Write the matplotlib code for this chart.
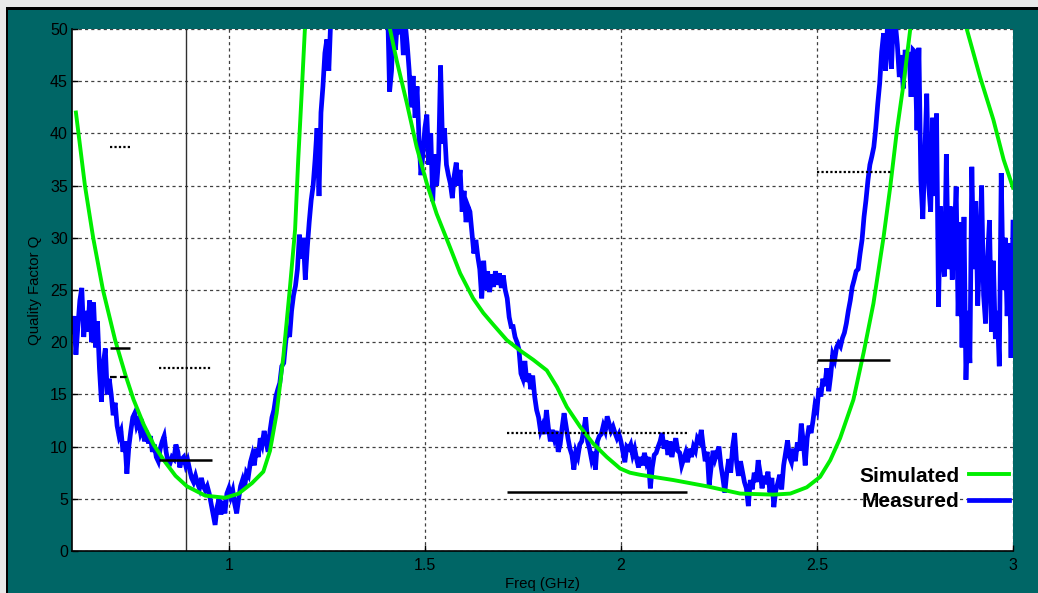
import numpy as np
import matplotlib
matplotlib.use("Agg")
import matplotlib.pyplot as plt
from matplotlib.patches import Rectangle

plt.rcParams['font.family'] = ['Liberation Sans', 'DejaVu Sans']

# ---------------- data ----------------
# Simulated quality factor (model curve), frequency in GHz
sim_freq = [0.61, 0.633, 0.654, 0.679, 0.71, 0.736, 0.757, 0.783, 0.808,
            0.834, 0.864, 0.893, 0.94, 0.991, 1.025, 1.059, 1.088, 1.105, 1.122,
            1.139, 1.156, 1.169, 1.177, 1.186, 1.194, 1.22, 1.26, 1.31, 1.36,
            1.39, 1.411, 1.428, 1.454, 1.479, 1.505, 1.530, 1.564, 1.59, 1.623,
            1.649, 1.674, 1.709, 1.743, 1.777, 1.811, 1.837, 1.862, 1.896, 1.929,
            1.964, 1.998, 2.023, 2.049, 2.133, 2.219, 2.304, 2.389, 2.432, 2.474,
            2.508, 2.534, 2.559, 2.593, 2.619, 2.644, 2.670, 2.687, 2.704, 2.721,
            2.738, 2.77, 2.81, 2.85, 2.882, 2.916, 2.950, 2.976, 3.0]
sim_q = [42.0, 35.0, 30.0, 25.0, 20.2, 16.9, 14.5, 12.1, 10.2,
         8.7, 7.2, 6.2, 5.3, 5.1, 5.5, 6.5, 7.6, 9.6, 13.2,
         18.6, 25.3, 30.8, 37.5, 44.0, 50.0, 62.0, 75.0, 80.0, 72.0,
         60.0, 50.0, 47.0, 42.9, 38.7, 35.2, 32.3, 29.1, 26.6, 24.2,
         22.8, 21.7, 20.2, 19.2, 18.3, 17.3, 15.7, 13.8, 11.9, 10.3,
         9.0, 7.9, 7.5, 7.3, 6.8, 6.2, 5.5, 5.4, 5.5, 6.1,
         7.1, 8.7, 10.8, 14.5, 19.0, 23.7, 30.1, 34.9, 40.3, 44.8,
         50.0, 58.0, 62.0, 58.0, 50.0, 45.4, 41.3, 37.5, 34.8]

# Measured quality factor, sweep 0.6-3.0 GHz in 5 MHz steps
meas_q_band1 = [  # 0.600 - 1.195 GHz
    21.0, 22.5, 18.8, 21.5, 24.0, 25.2, 20.5, 23.0, 21.0, 24.0,
    20.0, 23.8, 19.5, 22.0, 17.5, 14.3, 18.0, 19.4, 15.0, 16.5,
    15.0, 13.0, 14.2, 12.0, 11.0, 11.5, 9.5, 10.5, 7.4, 10.0,
    11.5, 12.8, 13.2, 12.0, 12.5, 11.3, 11.8, 10.5, 11.5, 10.3,
    11.0, 9.5, 10.2, 9.0, 8.6, 9.8, 10.5, 11.0, 9.5, 8.5,
    8.4, 9.0, 8.8, 10.2, 9.5, 8.0, 8.8, 9.0, 8.2, 8.7,
    7.8, 7.0, 6.6, 7.2, 6.5, 6.0, 7.0, 6.2, 5.8, 6.2,
    5.5, 4.5, 3.5, 2.5, 4.2, 5.0, 3.5, 4.8, 3.6, 5.5,
    6.0, 5.2, 5.8, 4.5, 3.6, 5.0, 6.2, 6.8, 6.0, 7.5,
    7.2, 8.5, 9.2, 8.2, 9.8, 9.0, 10.8, 10.2, 11.5, 10.5,
    9.5, 11.5, 12.8, 13.5, 14.8, 15.5, 16.1, 17.7, 18.0, 20.0,
    21.5, 20.5, 23.0, 24.5, 25.4, 27.0, 30.3, 28.0, 30.0, 26.0,
]
meas_q_band2 = [  # 1.200 - 1.795 GHz
    29.0, 31.5, 33.6, 35.0, 37.5, 40.5, 34.0, 42.0, 44.5, 47.7,
    49.0, 46.0, 51.0, 53.0, 55.0, 57.0, 58.0, 60.0, 62.0, 63.0,
    64.0, 66.0, 68.0, 70.0, 72.0, 72.0, 71.0, 70.0, 68.0, 66.0,
    64.0, 62.0, 60.0, 59.0, 58.0, 57.0, 56.0, 55.0, 54.0, 52.0,
    55.0, 52.0, 44.0, 46.0, 51.0, 48.0, 51.0, 49.5, 51.0, 47.5,
    50.5, 48.5, 46.0, 42.5, 45.5, 41.5, 44.5, 39.5, 36.0, 38.0,
    40.5, 41.8, 37.0, 40.0, 33.5, 38.0, 35.0, 37.5, 46.5, 39.0,
    40.5, 37.0, 36.0, 35.2, 33.8, 36.0, 37.2, 35.0, 36.5, 32.5,
    34.5, 31.5, 33.0, 32.5, 30.5, 28.5, 29.8, 28.2, 27.0, 24.2,
    27.8, 25.0, 26.8, 24.8, 26.5, 25.3, 26.8, 25.5, 26.6, 25.2,
    26.4, 25.0, 24.2, 22.4, 21.5, 21.5, 20.5, 20.0, 19.3, 17.0,
    16.5, 18.2, 16.2, 17.0, 15.5, 16.8, 14.8, 13.5, 12.8, 11.5,
]
meas_q_band3 = [  # 1.800 - 2.395 GHz
    12.0, 11.2, 13.5, 11.8, 10.5, 11.6, 10.8, 11.5, 9.5, 10.2,
    11.8, 13.2, 12.0, 10.8, 9.8, 9.2, 7.8, 9.5, 9.0, 10.2,
    10.5, 11.5, 12.8, 10.5, 9.8, 8.8, 9.5, 7.8, 10.5, 11.0,
    11.2, 12.0, 11.5, 12.9, 12.2, 11.5, 11.9, 11.3, 10.8, 11.2,
    10.5, 9.5, 8.5, 10.0, 9.8, 10.2, 9.2, 9.8, 8.8, 8.0,
    9.0, 8.2, 9.4, 8.5, 9.0, 6.0, 8.0, 9.2, 9.4, 10.0,
    10.5, 11.3, 9.8, 10.6, 9.2, 10.5, 9.0, 10.0, 10.8, 9.6,
    9.4, 8.2, 8.8, 9.4, 8.5, 9.8, 9.0, 10.0, 9.6, 10.8,
    10.5, 11.6, 10.0, 8.6, 9.5, 6.3, 8.0, 9.6, 8.8, 9.4,
    10.0, 8.2, 7.0, 5.6, 7.5, 8.8, 7.5, 10.0, 11.3, 8.5,
    7.2, 8.6, 7.6, 6.6, 6.0, 4.3, 6.8, 5.9, 7.5, 6.6,
    8.7, 7.5, 6.0, 7.2, 6.4, 7.6, 5.6, 7.0, 4.2, 5.8,
]
meas_q_band4 = [  # 2.400 - 3.000 GHz
    6.5, 7.3, 5.9, 8.2, 9.4, 10.6, 9.0, 8.5, 9.8, 8.6,
    10.4, 9.6, 12.2, 10.5, 8.2, 10.8, 12.0, 11.3, 12.5, 14.0,
    13.5, 15.6, 14.8, 16.5, 15.8, 17.5, 15.3, 16.8, 18.8, 18.3,
    19.5, 19.9, 19.6, 20.4, 20.9, 21.8, 23.0, 24.0, 25.3, 26.0,
    26.8, 27.0, 28.5, 29.8, 32.0, 33.6, 35.5, 37.0, 37.8, 38.7,
    40.5, 42.8, 44.8, 47.8, 49.6, 46.0, 50.5, 49.0, 46.2, 51.0,
    50.5, 48.5, 45.4, 47.5, 44.3, 48.0, 46.7, 47.8, 43.5, 48.0,
    47.8, 40.3, 48.2, 35.5, 31.8, 38.0, 43.8, 35.0, 32.5, 41.5,
    34.0, 41.9, 23.4, 33.0, 28.5, 26.3, 38.0, 27.0, 33.0, 26.0,
    30.0, 34.9, 22.5, 31.5, 19.5, 32.0, 16.4, 23.0, 18.0, 36.8,
    27.0, 33.5, 23.5, 28.5, 35.0, 24.5, 21.8, 28.0, 31.7, 21.0,
    27.8, 20.3, 23.0, 17.7, 36.2, 25.0, 30.0, 22.5, 29.5, 18.5,
    31.5,
]

# Target Q levels over frequency bands (Q, start GHz, stop GHz)
solid_q = [19.4, 8.7, 5.65, 18.3]
solid_f0 = [0.698, 0.823, 1.710, 2.500]
solid_f1 = [0.749, 0.958, 2.169, 2.687]
dotted_q = [38.7, 17.5, 11.3, 36.3]
dotted_f0 = [0.698, 0.823, 1.710, 2.500]
dotted_f1 = [0.749, 0.955, 2.169, 2.689]
dashed_q = [16.7]
dashed_f0 = [0.698]
dashed_f1 = [0.749]

marker_freq = 0.892

x_ticks = [1.0, 1.5, 2.0, 2.5, 3.0]
x_tick_labels = ['1', '1.5', '2', '2.5', '3']
y_ticks = [0, 5, 10, 15, 20, 25, 30, 35, 40, 45, 50]

# ---------------- figure ----------------
W, H = 1038, 593
fig = plt.figure(figsize=(W / 100, H / 100), dpi=100, facecolor='#006666')

# window frame strips (top and left)
fig.add_artist(Rectangle((0, 1 - 7 / H), 1, 7 / H, transform=fig.transFigure,
                         facecolor='#e8e8e8', edgecolor='none'))
fig.add_artist(Rectangle((0, 0), 6 / W, 1, transform=fig.transFigure,
                         facecolor='#e8e8e8', edgecolor='none'))
fig.add_artist(Rectangle((6 / W, 1 - 10 / H), 1 - 6 / W, 3 / H, transform=fig.transFigure,
                         facecolor='#000000', edgecolor='none'))
fig.add_artist(Rectangle((6 / W, 0), 2 / W, 1 - 7 / H, transform=fig.transFigure,
                         facecolor='#000000', edgecolor='none'))

left, right, bottom, top = 72, 1013, 551, 29
ax = fig.add_axes([left / W, 1 - bottom / H, (right - left) / W, (bottom - top) / H])
ax.set_facecolor('white')

meas_q = meas_q_band1 + meas_q_band2 + meas_q_band3 + meas_q_band4
meas_freq = np.linspace(0.6, 3.0, len(meas_q))

ax.axvline(marker_freq, color='#303030', lw=1.0, zorder=1.5)

meas_line, = ax.plot(meas_freq, meas_q, color='#0000ff', lw=3.4,
                     solid_joinstyle='miter', zorder=2, label='Measured')
sim_line, = ax.plot(sim_freq, sim_q, color='#00ee00', lw=2.8, zorder=3,
                    label='Simulated')

ax.hlines(solid_q, solid_f0, solid_f1, colors='black', lw=1.8, zorder=4)
ax.hlines(dotted_q, dotted_f0, dotted_f1, colors='black', lw=1.6,
          linestyles=(0, (1, 1)), zorder=4)
ax.hlines(dashed_q, dashed_f0, dashed_f1, colors='black', lw=1.6,
          linestyles=(0, (3, 1.5)), zorder=4)

ax.set_xlim(0.6, 3.0)
ax.set_ylim(0, 50)
ax.set_xticks(x_ticks)
ax.set_xticklabels(x_tick_labels)
ax.set_yticks(y_ticks)

ax.grid(True, color='#404040', lw=0.9, linestyle=(0, (2.5, 2.5)), zorder=1)
ax.set_axisbelow(True)

for s in ['top', 'right']:
    ax.spines[s].set_visible(False)
for s in ['left', 'bottom']:
    ax.spines[s].set_color('black')
    ax.spines[s].set_linewidth(1.2)

ax.tick_params(axis='both', direction='in', length=4, width=1, color='black',
               labelsize=11.5, labelcolor='black')
ax.tick_params(axis='x', pad=5)
ax.tick_params(axis='y', pad=3)

ax.set_xlabel('Freq (GHz)', fontsize=10.8, color='black')
ax.set_ylabel('Quality Factor Q', fontsize=10.8, color='black')
ax.xaxis.set_label_coords(0.5, -0.05)
ax.yaxis.set_label_coords(-0.032, 0.5)

leg = ax.legend(handles=[sim_line, meas_line], loc='lower right',
                bbox_to_anchor=(0.9955, 0.076), frameon=False, markerfirst=False,
                borderaxespad=0, borderpad=0, handlelength=1.9, handletextpad=0.48,
                labelspacing=0.32, prop={'weight': 'bold', 'size': 15})

fig.savefig('out.png', dpi=100, facecolor=fig.get_facecolor())
